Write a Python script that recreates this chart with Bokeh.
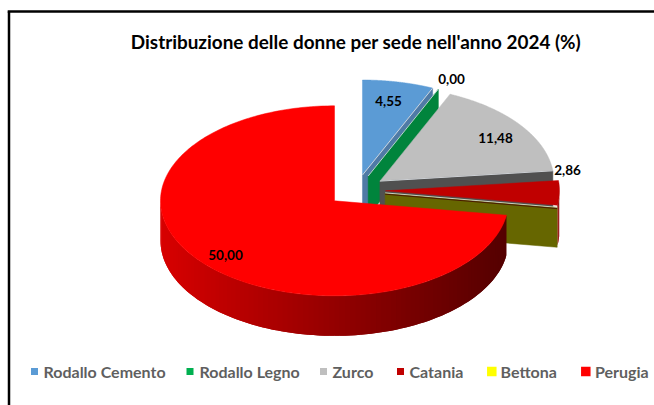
import numpy as np
from bokeh.embed import file_html
from bokeh.models import Range1d
from bokeh.plotting import figure
from bokeh.resources import INLINE
from bokeh.core.properties import value

TITLE = "Distribuzione delle donne per sede nell'anno 2024 (%)"
categories = ["Rodallo Cemento", "Rodallo Legno", "Zurco", "Catania", "Bettona", "Perugia"]
values = [4.55, 0.00, 11.48, 2.86, 0.00, 50.00]
top_colors = ["#5B9BD5", "#00843C", "#BFBFBF", "#C00000", "#666600", "#FF0000"]
legend_colors = ["#5B9BD5", "#00B050", "#BFBFBF", "#C00000", "#FFFF00", "#FF0000"]
face_colors = ["#4F7AA6", "#00843C", "#505050", "#8A0000", "#666600", "#A00000"]

# layout, in page pixels
CX, CY, RX, RY, DEPTH, EXPLODE = 356.0, 190.0, 174.0, 95.0, 40.0, 29.0
label_pos = [(388, 100), (451, 78), (495, 137), (567, 169), None, (225, 254)]
legend_marker_x = [34, 189.5, 323, 400, 491.3, 585.3]
legend_marker_size = [7, 7, 7, 7, 9.5, 9.5]
legend_text_x = [43, 199, 332, 409, 500, 594.5]
LEGEND_Y = 371

W, H = 654, 405
p = figure(width=W, height=H, output_backend="svg", toolbar_location=None,
           x_range=Range1d(0, W), y_range=Range1d(H, 0), min_border=0,
           outline_line_color=None, background_fill_color="white")
p.axis.visible = False
p.grid.visible = False

total = sum(values)
edges = np.concatenate([[0.0], np.cumsum(values)]) / total * 2 * np.pi


def pt(ax, ay, th, down=0.0):
    return ax + RX * np.sin(th), ay - RY * np.cos(th) + down


apexes = []
for a0, a1 in zip(edges[:-1], edges[1:]):
    mid = (a0 + a1) / 2
    apexes.append((CX + EXPLODE * np.sin(mid), CY - EXPLODE * RY / RX * np.cos(mid)))


def surface(i):
    a0, a1 = edges[i], edges[i + 1]
    if a1 <= a0:
        return
    t = np.linspace(a0, a1, 240)
    ax, ay = apexes[i]
    xs, ys = pt(ax, ay, t)
    p.patch(np.r_[ax, xs], np.r_[ay, ys], fill_color=top_colors[i],
            line_color=top_colors[i], line_width=0.5)


def cut_face(i, th):
    ax, ay = apexes[i]
    ex, ey = pt(ax, ay, th)
    p.patch([ax, ex, ex, ax], [ay, ey, ey + DEPTH, ay + DEPTH],
            fill_color=face_colors[i], line_color=face_colors[i], line_width=0.5)
    p.line([ax, ex], [ay, ey], line_color="#E4E8EE", line_width=0.8)
    return ax, ay, ex, ey


def rim(i, c_left, c_right, lo, hi):
    t = np.linspace(lo, hi, 100)
    ax, ay = apexes[i]
    xs, ys = pt(ax, ay, t)
    xmin, xmax = ax - RX, ax + RX
    qx, qy, qc = [], [], []
    # painted left to right, each strip running under the next one
    for k in range(len(t) - 2, -1, -1):
        k2 = min(k + 2, len(t) - 1)
        idx = list(range(k, k2 + 1))
        f = ((xs[k] + xs[k + 1]) / 2 - xmin) / (xmax - xmin)
        rgb = [int(round(c_left[j] + (c_right[j] - c_left[j]) * f)) for j in range(3)]
        qx.append(list(xs[idx]) + list(xs[idx][::-1]))
        qy.append(list(ys[idx]) + list((ys[idx] + DEPTH)[::-1]))
        qc.append("#%02X%02X%02X" % tuple(rgb))
    p.patches(qx, qy, fill_color=qc, line_color=None)


# back-to-front
surface(0)
cut_face(0, edges[1])
cut_face(1, edges[1])
surface(2)
cut_face(2, edges[3])
rim(3, (150, 0, 0), (150, 0, 0), np.pi / 2, edges[4])
surface(3)
ax4, ay4, ex4, ey4 = cut_face(4, edges[4])
p.line([ax4, ex4], [ay4 + 1.3, ey4 + 1.3], line_color="#4A1A00", line_width=1)
rim(5, (216, 0, 0), (84, 0, 0), edges[5], 1.5 * np.pi)
surface(5)

# data labels
for v, pos in zip(values, label_pos):
    if pos is None:
        continue
    p.text([pos[0]], [pos[1]], text=[f"{v:.2f}".replace(".", ",")],
           text_font=value("Lato"), text_font_style="bold", text_font_size="13.5px",
           text_color="#000000", text_align="center", text_baseline="middle")

# frame
p.line([8.5, 8.5], [H, 11], line_color="black", line_width=2.5)
p.line([7.2, W], [11, 11], line_color="black", line_width=2.5)

# title
p.text([355.5], [41], text=[TITLE], text_font=value("Lato"), text_font_style="bold",
       text_font_size="18.9px", text_color="#000000", text_align="center", text_baseline="middle")

# legend
p.scatter(legend_marker_x, [LEGEND_Y] * 6, marker="square", size=legend_marker_size,
          fill_color=legend_colors, line_color=None)
p.text(legend_text_x, [LEGEND_Y] * 6, text=categories, text_font=value("Lato"),
       text_font_style="bold", text_font_size="16px", text_color="#5F5F5F",
       text_align="left", text_baseline="middle")

open("out.html", "w").write(file_html(p, INLINE))
